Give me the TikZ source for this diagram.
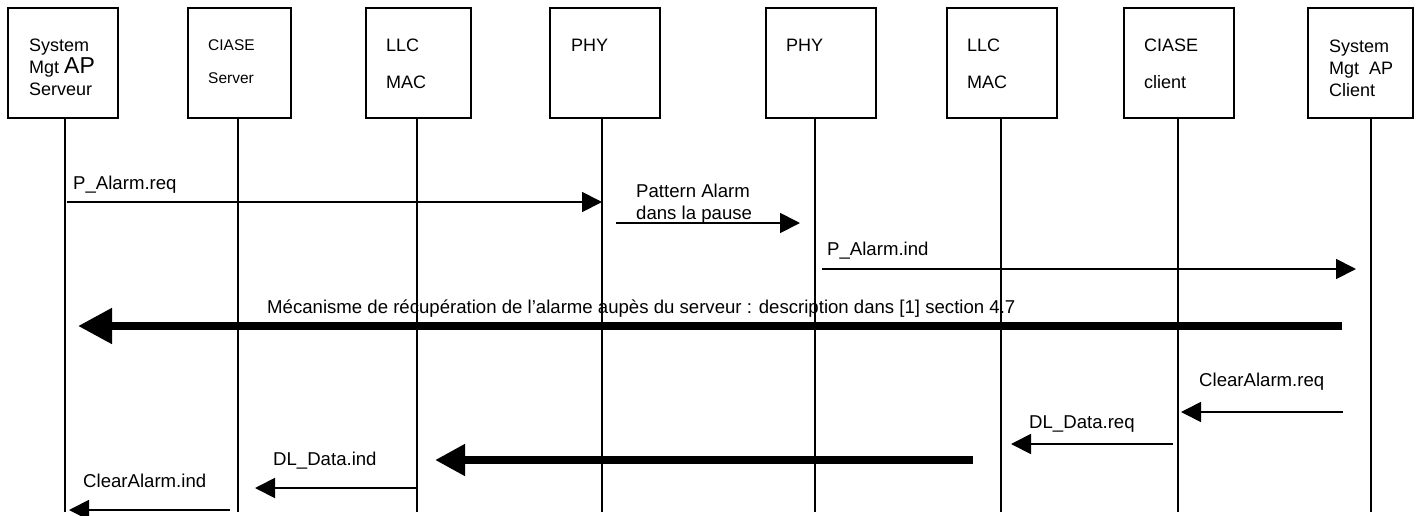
\documentclass[tikz,border=0pt]{standalone}
\usepackage{fontspec}
\setmainfont{Liberation Sans}
\usetikzlibrary{arrows.meta}
\tikzstyle{every layer} = []
\tikzstyle{layer} = [draw, line width=1.6pt, inner sep=0pt, minimum height=110pt, every layer]
\tikzstyle{layertext} = [inner sep=0pt, anchor=north west, align=left, font=\fontsize{18}{22}\selectfont]
\tikzstyle{lifeline} = [draw, line width=1.6pt]
\tikzstyle{msg} = [draw, line width=1.8pt, -{Triangle[length=20pt,width=20pt]}]
\tikzstyle{bigmsg} = [draw, line width=8pt, -{Triangle[length=34pt,width=34pt]}]
\tikzstyle{msgtext} = [inner sep=0pt, anchor=base west, font=\fontsize{18.6}{22}\selectfont]

\begin{document}
\begin{tikzpicture}[x=1pt, y=-1pt]

        \useasboundingbox (0,0) rectangle (1425,515);

        % server side
        \node[layer, minimum width=110pt] (apsrv) at (63,63) {};
        \node[layertext] (apsrvtext) at (29,39) {System\\Mgt {\fontsize{23}{22}\selectfont AP}\\Serveur};

        \node[layer, minimum width=103pt] (ciasesrv) at (239.5,63) {};
        \node[layertext, font=\fontsize{15.5}{19}\selectfont] (ciasesrvtext) at (208,39) {CIASE\\[14pt]Server};

        \node[layer, minimum width=105pt] (macsrv) at (418.5,63) {};
        \node[layertext] (macsrvtext) at (386,39) {LLC\\[15pt]MAC};

        \node[layer, minimum width=110pt] (physrv) at (605,63) {};
        \node[layertext] (physrvtext) at (571,39) {PHY};

        % client side
        \node[layer, minimum width=110pt] (phycli) at (821,63) {};
        \node[layertext] (phyclitext) at (786,39) {PHY};

        \node[layer, minimum width=110pt] (maccli) at (1002,63) {};
        \node[layertext] (macclitext) at (967,39) {LLC\\[15pt]MAC};

        \node[layer, minimum width=110pt] (ciasecli) at (1179,63) {};
        \node[layertext] (ciaseclitext) at (1144,39) {CIASE\\[15pt]client};

        \node[layer, minimum width=105pt] (apcli) at (1360.5,63) {};
        \node[layertext] (apclitext) at (1329,40) {System\\Mgt\hspace{10pt}AP\\Client};

        % lifelines
        \coordinate (apsrvend) at (65,512);
        \coordinate (ciasesrvend) at (238,512);
        \coordinate (macsrvend) at (417,512);
        \coordinate (physrvend) at (602,512);
        \coordinate (phycliend) at (815,512);
        \coordinate (maccliend) at (1001,512);
        \coordinate (ciasecliend) at (1178,512);
        \coordinate (apcliend) at (1371,512);
        \draw[lifeline] (apsrv.south -| apsrvend) -- (apsrvend);
        \draw[lifeline] (ciasesrv.south -| ciasesrvend) -- (ciasesrvend);
        \draw[lifeline] (macsrv.south -| macsrvend) -- (macsrvend);
        \draw[lifeline] (physrv.south -| physrvend) -- (physrvend);
        \draw[lifeline] (phycli.south -| phycliend) -- (phycliend);
        \draw[lifeline] (maccli.south -| maccliend) -- (maccliend);
        \draw[lifeline] (ciasecli.south -| ciasecliend) -- (ciasecliend);
        \draw[lifeline] (apcli.south -| apcliend) -- (apcliend);

        % alarm going up to the client
        \coordinate (reqfrom) at (67,202);
        \coordinate (reqto) at (602,202);
        \draw[msg] (reqfrom) -- (reqto);
        \node[msgtext] (reqtext) at (73,189) {P\_Alarm.req};

        \coordinate (patfrom) at (616,223);
        \coordinate (patto) at (800,223);
        \draw[msg] (patfrom) -- (patto);
        \node[msgtext, anchor=north west, align=left] (pattext) at (636,184) {Pattern Alarm\\dans la pause};

        \coordinate (indfrom) at (822,269);
        \coordinate (indto) at (1356,269);
        \draw[msg] (indfrom) -- (indto);
        \node[msgtext] (indtext) at (827,255) {P\_Alarm.ind};

        \coordinate (getfrom) at (1342,326);
        \coordinate (getto) at (78,326);
        \draw[bigmsg] (getfrom) -- (getto);
        \node[msgtext] (gettext) at (267,313) {Mécanisme de récupération de l’alarme aupès du serveur : description dans [1] section 4.7};

        % clearing the alarm
        \coordinate (clrfrom) at (1343,412);
        \coordinate (clrto) at (1181,412);
        \draw[msg] (clrfrom) -- (clrto);
        \node[msgtext] (clrtext) at (1199,386) {ClearAlarm.req};

        \coordinate (dlreqfrom) at (1173,444);
        \coordinate (dlreqto) at (1011,444);
        \draw[msg] (dlreqfrom) -- (dlreqto);
        \node[msgtext] (dlreqtext) at (1029,428) {DL\_Data.req};

        \coordinate (airfrom) at (973,460);
        \coordinate (airto) at (435,460);
        \draw[bigmsg, -{Triangle[length=30pt,width=30pt]}] (airfrom) -- (airto);

        \coordinate (dlindfrom) at (417,488);
        \coordinate (dlindto) at (255,488);
        \draw[msg] (dlindfrom) -- (dlindto);
        \node[msgtext] (dlindtext) at (273,465) {DL\_Data.ind};

        \coordinate (clrindfrom) at (230,510);
        \coordinate (clrindto) at (69,510);
        \draw[msg] (clrindfrom) -- (clrindto);
        \node[msgtext] (clrindtext) at (83,487) {ClearAlarm.ind};

\end{tikzpicture}
\end{document}
